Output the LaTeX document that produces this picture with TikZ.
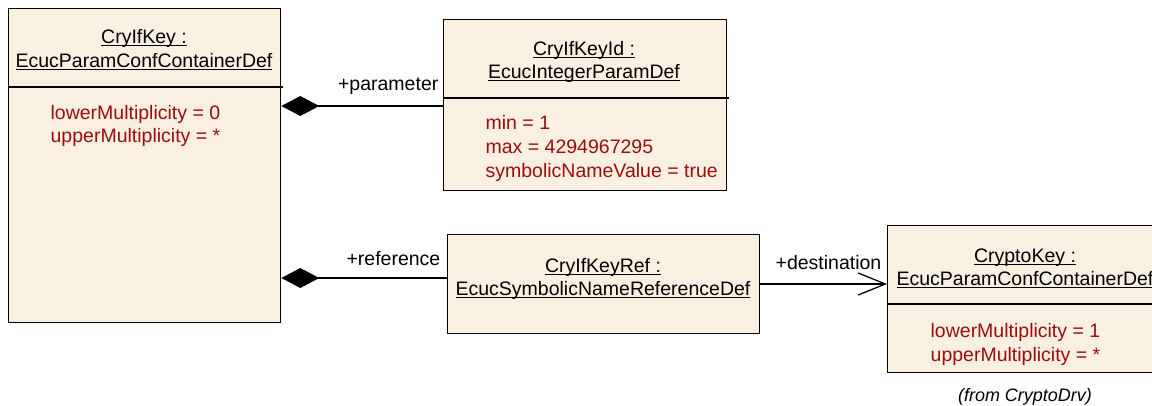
\documentclass[tikz,border=0pt]{standalone}
\usepackage{fontspec}
\setmainfont{Liberation Sans}
\usetikzlibrary{arrows.meta}

\definecolor{classfill}{RGB}{250,240,226}
\definecolor{attrred}{RGB}{155,12,12}
\newcommand{\ulname}[1]{\setbox0\hbox{#1}\rlap{\rule[-2.6pt]{\wd0}{1pt}}\box0}

\begin{document}
\begin{tikzpicture}[x=1pt, y=-1pt, line width=1.3pt,
		font=\fontsize{19.5}{23}\selectfont,
		classbox/.style={draw, fill=classfill, anchor=north west, inner sep=0pt},
		title/.style={anchor=base, inner sep=0pt},
		attr/.style={anchor=base west, inner sep=0pt, text=attrred},
		role/.style={anchor=base east, inner sep=0pt},
		composition/.style={-{Diamond[length=38pt, width=20pt]}},
		navigable/.style={-{Straight Barb[length=27pt, width=22pt, line width=1.3pt]}}]
			\useasboundingbox (0,0) rectangle (1152,405);
			\clip (0,0) rectangle (1152,405);

			% classes
			\node[classbox, minimum width=272pt, minimum height=314pt] (key) at (8,8) {};
			\node[classbox, minimum width=283pt, minimum height=171pt] (keyid) at (443,19) {};
			\node[classbox, minimum width=312pt, minimum height=99pt] (keyref) at (447,234) {};
			\node[classbox, minimum width=290pt, minimum height=147pt] (cryptokey) at (887,225) {};

			% compartment lines
			\draw (key.north west |- 0,87) -- ++(275,0);
			\draw (keyid.north west |- 0,98) -- ++(286,0);
			\draw (cryptokey.north west |- 0,304) -- ++(290,0);

			% CryIfKey
			\node[title] (keyname) at (144,43) {\ulname{CryIfKey :}};
			\node[title] (keytype) at (144,67) {\ulname{EcucParamConfContainerDef}};
			\node[attr] (keylower) at (50,119) {lowerMultiplicity = 0};
			\node[attr] (keyupper) at (50,142) {upperMultiplicity = *};

			% CryIfKeyId
			\node[title] (idname) at (584,55) {\ulname{CryIfKeyId :}};
			\node[title] (idtype) at (584,78) {\ulname{EcucIntegerParamDef}};
			\node[attr] (idmin) at (485,129) {min = 1};
			\node[attr] (idmax) at (485,153) {max = 4294967295};
			\node[attr] (idsym) at (485,177) {symbolicNameValue = true};

			% CryIfKeyRef
			\node[title] (refname) at (603,272) {\ulname{CryIfKeyRef :}};
			\node[title] (reftype) at (603,295) {\ulname{EcucSymbolicNameReferenceDef}};

			% CryptoKey
			\node[title] (cryname) at (1025,262) {\ulname{CryptoKey :}};
			\node[title] (crytype) at (1025,285) {\ulname{EcucParamConfContainerDef}};
			\node[attr] (crylower) at (930,337) {lowerMultiplicity = 1};
			\node[attr] (cryupper) at (930,361) {upperMultiplicity = *};
			\node[title, font=\fontsize{18}{22}\selectfont\itshape] (cryfrom) at (1025,401) {(from CryptoDrv)};

			% associations
			\coordinate (parend) at (443,106);
			\coordinate (refend) at (447,278);
			\coordinate (destend) at (759,284);
			\draw[composition] (parend) -- (key.east |- parend);
			\draw[composition] (refend) -- (key.east |- refend);
			\draw[navigable] (destend) -- (cryptokey.west |- destend);

			\node[role] (parlabel) at (439,90) {+parameter};
			\node[role] (reflabel) at (441,265) {+reference};
			\node[role] (destlabel) at (882,269) {+destination};
		\end{tikzpicture}
\end{document}
